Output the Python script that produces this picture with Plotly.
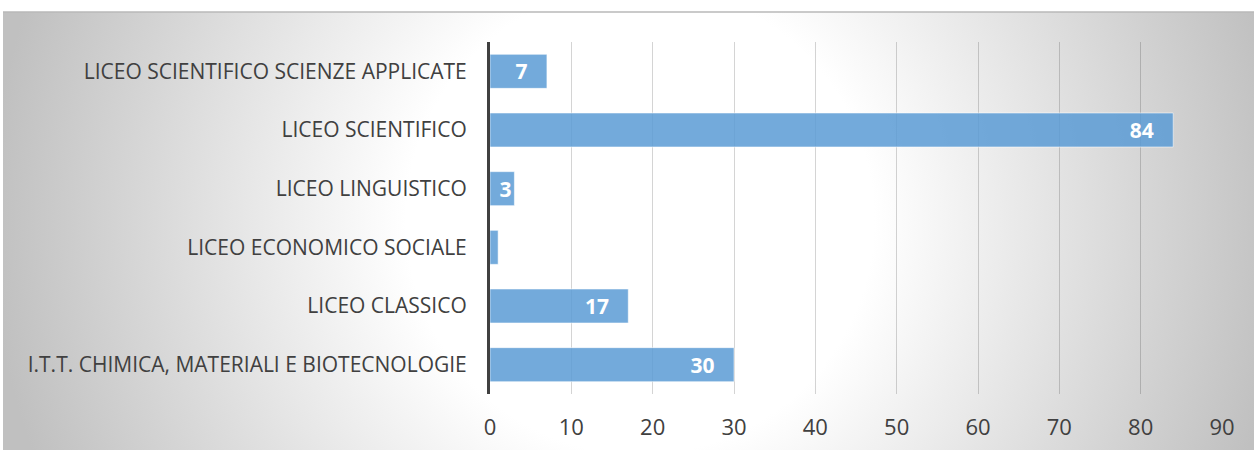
import base64
import plotly.graph_objects as go

categories = [
    "LICEO SCIENTIFICO SCIENZE APPLICATE",
    "LICEO SCIENTIFICO",
    "LICEO LINGUISTICO",
    "LICEO ECONOMICO SOCIALE",
    "LICEO CLASSICO",
    "I.T.T. CHIMICA, MATERIALI E BIOTECNOLOGIE",
]
values = [7, 84, 3, 1, 17, 30]
x_ticks = [0, 10, 20, 30, 40, 50, 60, 70, 80, 90]

W, H = 1254, 450
L, R, T, B = 490, 32, 42, 56
pw, ph = W - L - R, H - T - B

# radial gradient background as an SVG image
bx0, by0, bx1, by1 = 3, 12, 1254, 450
bw, bh = bx1 - bx0, by1 - by0
svg = f'''<svg xmlns="http://www.w3.org/2000/svg" width="{bw}" height="{bh}" viewBox="0 0 {bw} {bh}" preserveAspectRatio="none">
<defs><radialGradient id="g" gradientUnits="userSpaceOnUse" cx="{640-bx0}" cy="{220-by0}" r="650">
<stop offset="0" stop-color="#ffffff"/><stop offset="0.36" stop-color="#ffffff"/>
<stop offset="1" stop-color="#c0c0c0"/></radialGradient></defs>
<rect x="0" y="0" width="{bw}" height="{bh}" fill="url(#g)"/></svg>'''
src = "data:image/svg+xml;base64," + base64.b64encode(svg.encode()).decode()

def px_to_paper_x(px):
    return (px - L) / pw

def px_to_paper_y(py):
    return (H - B - py) / ph

font_family = "'Open Sans', Lato, sans-serif"

texts = []
for v in values:
    if v >= 5:
        texts.append(str(v) + "\u00a0\u00a0\u00a0")
    elif v >= 3:
        texts.append(str(v))
    else:
        texts.append("")

fig = go.Figure()
fig.add_trace(go.Bar(
    y=categories, x=values, orientation="h",
    marker=dict(color="rgba(91,155,213,0.85)", line=dict(color="rgba(255,255,255,0.55)", width=1)),
    text=texts, textposition="inside", insidetextanchor="end",
    constraintext="none", textangle=0,
    textfont=dict(family=font_family, size=21, color="white", weight="bold"),
    hoverinfo="skip",
))

fig.update_layout(
    width=W, height=H,
    margin=dict(l=L, r=R, t=T, b=B, autoexpand=False),
    paper_bgcolor="white", plot_bgcolor="rgba(0,0,0,0)",
    bargap=0.42, showlegend=False,
    font=dict(family=font_family, size=20, color="#404040"),
    xaxis=dict(range=[0, 90], tickvals=x_ticks, showgrid=True,
               gridcolor="rgba(0,0,0,0.17)", gridwidth=1.3, zeroline=False,
               showline=False, ticks="", ticklabelstandoff=18,
               tickfont=dict(size=22, color="#404040")),
    yaxis=dict(autorange="reversed", showline=True, linecolor="#404040", linewidth=3,
               showgrid=False, ticks="", ticklabelstandoff=16,
               tickfont=dict(size=21, color="#404040")),
    images=[dict(source=src, xref="paper", yref="paper",
                 x=px_to_paper_x(bx0), y=px_to_paper_y(by0),
                 sizex=bw / pw, sizey=bh / ph, sizing="stretch",
                 xanchor="left", yanchor="top", layer="below")],
    shapes=[dict(type="line", xref="paper", yref="paper",
                 x0=px_to_paper_x(bx0), x1=px_to_paper_x(W),
                 y0=px_to_paper_y(by0), y1=px_to_paper_y(by0),
                 line=dict(color="#b8b8b8", width=1.5))],
)

fig.write_html("out.html", config={"displayModeBar": False},
               post_script="document.body.style.margin='0px';")
